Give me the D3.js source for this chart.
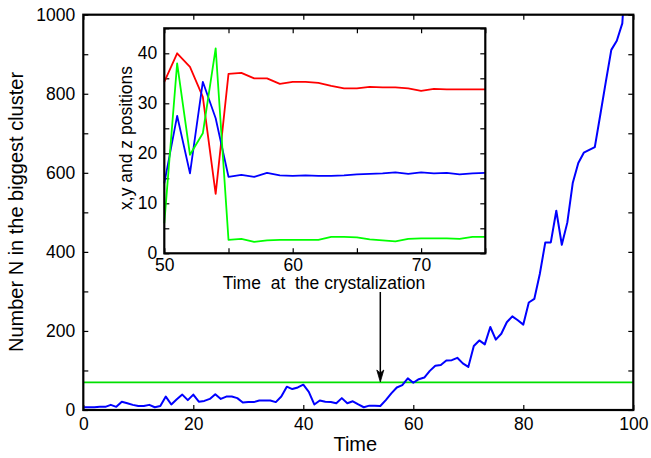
<!DOCTYPE html>
<html><head><meta charset="utf-8">
<script src="https://cdn.jsdelivr.net/npm/d3@7"></script>
<style>
html,body{margin:0;padding:0;background:#fff;}
svg{display:block;font-family:"Liberation Sans",Arial,Helvetica,sans-serif;}
</style></head>
<body><svg id="chart" width="651" height="458"></svg>
<script>
// ---- Main chart data (time step = index) ----
const clusterSize = [7,7,7,8,8,13,8,21,17,13,10,10,13,7,10,34,14,27,39,25,39,21,23,28,40,28,34,34,30,19,20,20,24,24,24,20,34,59,53,57,64,46,14,24,21,20,17,30,17,22,14,7,11,11,10,25,42,57,63,80,69,78,82,99,112,114,125,126,132,118,109,162,176,166,210,178,193,222,237,227,216,272,281,344,424,424,504,418,474,575,625,651,658,665,747,830,911,934,978,1200];
const threshold = 70;
const arrowTime = 54;
const mainXTicks = [0,20,40,60,80,100];
const mainYTicks = [0,100,200,300,400,500,600,700,800,900,1000];
const mainYLabels = [0,200,400,600,800,1000];

// ---- Inset data: times 50..75 ----
const insetTimes = [50,51,52,53,54,55,56,57,58,59,60,61,62,63,64,65,66,67,68,69,70,71,72,73,74,75];
const posX = [34.3,40,37.3,31.3,11.9,35.9,36.1,35.0,35.0,33.9,34.3,34.3,34.1,33.5,33.0,33.0,33.3,33.2,33.2,33.0,32.5,32.9,32.8,32.8,32.8,32.8];
const posY = [14,27.5,16,34.3,27,15.3,15.7,15.3,16.1,15.6,15.5,15.6,15.5,15.5,15.6,15.8,15.9,16.0,16.2,15.9,16.2,16.0,16.1,15.8,16.0,16.1];
const posZ = [6,38,19.7,24,41,2.7,2.9,2.3,2.6,2.7,2.7,2.7,2.7,3.3,3.3,3.2,2.8,2.6,2.4,2.9,3.0,3.0,3.0,2.9,3.3,3.3];
const insetXTicks = [50,55,60,65,70,75];
const insetXLabels = [50,60,70];
const insetYTicks = [0,5,10,15,20,25,30,35,40,45];
const insetYLabels = [0,10,20,30,40];

const svg = d3.select("#chart");

// ---- main scales ----
const x = d3.scaleLinear().domain([0,100]).range([83.3,633.3]);
const y = d3.scaleLinear().domain([0,1000]).range([410,14.7]);

svg.append("defs").append("clipPath").attr("id","mainclip")
  .append("rect").attr("x",x(0)).attr("y",y(1000)).attr("width",x(100)-x(0)).attr("height",y(0)-y(1000));

const fmtLabels = (labels) => d => labels.includes(d) ? d : "";

function styleAxis(g, fs){
  g.select(".domain").remove();
  g.selectAll(".tick line").attr("stroke","#000").attr("stroke-width",1.2);
  g.selectAll(".tick text").attr("fill","#000").style("font-size",fs+"px").style("font-family","'Liberation Sans',Arial,sans-serif");
}

// main axes
svg.append("g").attr("transform",`translate(0,${y(0)})`)
  .call(d3.axisBottom(x).tickValues(mainXTicks).tickSizeInner(-5).tickSizeOuter(0).tickPadding(8).tickFormat(fmtLabels(mainXTicks)))
  .call(g=>styleAxis(g,17.5));
svg.append("g").attr("transform",`translate(0,${y(1000)})`)
  .call(d3.axisTop(x).tickValues(mainXTicks).tickSizeInner(-5).tickSizeOuter(0).tickFormat(""))
  .call(g=>styleAxis(g,17.5));
svg.append("g").attr("transform",`translate(${x(0)},0)`)
  .call(d3.axisLeft(y).tickValues(mainYTicks).tickSizeInner(-5).tickSizeOuter(0).tickPadding(8).tickFormat(fmtLabels(mainYLabels)))
  .call(g=>styleAxis(g,17.5));
svg.append("g").attr("transform",`translate(${x(100)},0)`)
  .call(d3.axisRight(y).tickValues(mainYTicks).tickSizeInner(-5).tickSizeOuter(0).tickFormat(""))
  .call(g=>styleAxis(g,17.5));

// threshold line
svg.append("line").attr("x1",x(0)).attr("x2",x(100)).attr("y1",y(threshold)).attr("y2",y(threshold))
  .attr("stroke","#00e000").attr("stroke-width",1.6);

// blue series
svg.append("path").datum(clusterSize)
  .attr("clip-path","url(#mainclip)")
  .attr("fill","none").attr("stroke","#0000ff").attr("stroke-width",2)
  .attr("stroke-linejoin","round")
  .attr("d", d3.line().x((d,i)=>x(i)).y(d=>y(d)));

// main frame
svg.append("rect").attr("x",x(0)).attr("y",y(1000)).attr("width",x(100)-x(0)).attr("height",y(0)-y(1000))
  .attr("fill","none").attr("stroke","#000").attr("stroke-width",2.2);

// main labels
svg.append("text").attr("x",x(50)-3).attr("y",451).attr("text-anchor","middle")
  .style("font-size","20px").text("Time");
svg.append("text").attr("transform",`translate(23,212) rotate(-90)`).attr("text-anchor","middle")
  .style("font-size","20px").text("Number N in the biggest cluster");

// ---- inset ----
const ix = d3.scaleLinear().domain([50,75]).range([164.3,485.3]);
const iy = d3.scaleLinear().domain([0,45]).range([253.3,28.3]);

svg.append("rect").attr("x",ix(50)).attr("y",iy(45)).attr("width",ix(75)-ix(50)).attr("height",iy(0)-iy(45))
  .attr("fill","#fff");

svg.append("g").attr("transform",`translate(0,${iy(0)})`)
  .call(d3.axisBottom(ix).tickValues(insetXTicks).tickSizeInner(-5).tickSizeOuter(0).tickPadding(5).tickFormat(fmtLabels(insetXLabels)))
  .call(g=>styleAxis(g,17.5));
svg.append("g").attr("transform",`translate(0,${iy(45)})`)
  .call(d3.axisTop(ix).tickValues(insetXTicks).tickSizeInner(-5).tickSizeOuter(0).tickFormat(""))
  .call(g=>styleAxis(g,17.5));
svg.append("g").attr("transform",`translate(${ix(50)},0)`)
  .call(d3.axisLeft(iy).tickValues(insetYTicks).tickSizeInner(-5).tickSizeOuter(0).tickPadding(7).tickFormat(fmtLabels(insetYLabels)))
  .call(g=>styleAxis(g,17.5));
svg.append("g").attr("transform",`translate(${ix(75)},0)`)
  .call(d3.axisRight(iy).tickValues(insetYTicks).tickSizeInner(-5).tickSizeOuter(0).tickFormat(""))
  .call(g=>styleAxis(g,17.5));

const iline = d3.line().x((d,i)=>ix(insetTimes[i])).y(d=>iy(d));
[[posX,"#ff0000"],[posY,"#0000ff"],[posZ,"#00ff00"]].forEach(([s,c])=>{
  svg.append("path").datum(s).attr("fill","none").attr("stroke",c).attr("stroke-width",1.8)
    .attr("stroke-linejoin","round").attr("d",iline);
});

svg.append("rect").attr("x",ix(50)).attr("y",iy(45)).attr("width",ix(75)-ix(50)).attr("height",iy(0)-iy(45))
  .attr("fill","none").attr("stroke","#000").attr("stroke-width",2.2);

svg.append("text").attr("x",324).attr("y",289).attr("text-anchor","middle")
  .style("font-size","17.5px").attr("xml:space","preserve").style("white-space","pre")
  .text("Time  at  the crystalization");
svg.append("text").attr("transform",`translate(132,138) rotate(-90)`).attr("text-anchor","middle")
  .style("font-size","17.5px").text("x,y and z positions");

// ---- arrow ----
const ax = x(arrowTime);
svg.append("line").attr("x1",ax).attr("x2",ax).attr("y1",292).attr("y2",376)
  .attr("stroke","#000").attr("stroke-width",1.5);
svg.append("path").attr("d",`M${ax-3.5},${370} L${ax},${382} L${ax+3.5},${370} L${ax},${373} Z`)
  .attr("fill","#000").attr("stroke","#000").attr("stroke-width",0.8);
</script></body></html>
